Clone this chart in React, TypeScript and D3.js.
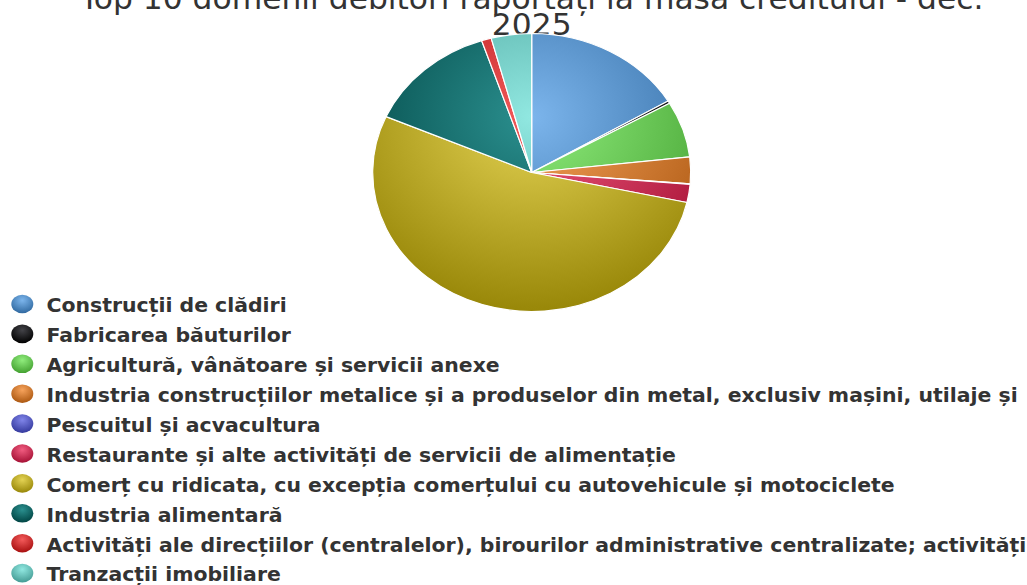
import React from 'react';
import * as d3 from 'd3';

const categories = [
  'Construcții de clădiri',
  'Fabricarea băuturilor',
  'Agricultură, vânătoare și servicii anexe',
  'Industria construcțiilor metalice și a produselor din metal, exclusiv mașini, utilaje și',
  'Pescuitul și acvacultura',
  'Restaurante și alte activități de servicii de alimentație',
  'Comerț cu ridicata, cu excepția comerțului cu autovehicule și motociclete',
  'Industria alimentară',
  'Activități ale direcțiilor (centralelor), birourilor administrative centralizate; activități',
  'Tranzacții imobiliare',
];

const values = [16.4, 0.3, 6.5, 3.1, 0.05, 2.1, 53.1, 13.3, 1.0, 4.1];

const colors = [
  '#7cb5ec', '#434348', '#90ed7d', '#f7a35c', '#8085e9',
  '#f15c80', '#e4d354', '#2b908f', '#f45b5b', '#91e8e1',
];

const titleLines = ['Top 10 domenii debitori raportați la masa creditului - dec.', '2025'];

const W = 1027;
const H = 585;
const CX = 531.7;
const CY = 172.5;
const R = 139;
const SX = 1.144;

function darken(c: string): string {
  const r = d3.rgb(c);
  const f = (v: number) => Math.max(0, Math.min(255, Math.round(v - 0.3 * 255)));
  return d3.rgb(f(r.r), f(r.g), f(r.b)).formatHex();
}

export default function App() {
  const pie = d3.pie<number>().sort(null).value((d) => d);
  const arcs = pie(values);
  const arc = d3.arc<d3.PieArcDatum<number>>().innerRadius(0).outerRadius(R);

  const legendY = d3.scaleLinear().domain([0, categories.length - 1]).range([312.3, 581.4]);

  return (
    <svg
      width={W}
      height={H}
      style={{ position: 'absolute', left: 0, top: 0, background: '#fff' }}
    >
      <defs>
        {colors.map((c, i) => (
          <radialGradient
            key={'pg' + i}
            id={'pg' + i}
            gradientUnits="userSpaceOnUse"
            cx={0}
            cy={-0.2 * 2 * R}
            r={0.7 * 2 * R}
          >
            <stop offset="0" stopColor={c} />
            <stop offset="1" stopColor={darken(c)} />
          </radialGradient>
        ))}
        {colors.map((c, i) => (
          <radialGradient key={'lg' + i} id={'lg' + i} cx={0.5} cy={0.3} r={0.7}>
            <stop offset="0" stopColor={c} />
            <stop offset="1" stopColor={darken(c)} />
          </radialGradient>
        ))}
      </defs>
      <rect x={0} y={0} width={W} height={H} fill="#fff" />

      <g fill="#333333" fontFamily="DejaVu Sans" fontSize={30}>
        {titleLines.map((t, i) => (
          <text
            key={i}
            transform={`translate(${CX},${i === 0 ? 9.3 : 35}) scale(1.045,1)`}
            textAnchor="middle"
          >
            {t}
          </text>
        ))}
      </g>

      <g transform={`translate(${CX},${CY}) scale(${SX},1)`}>
        {arcs.map((a, i) => (
          <path
            key={i}
            d={arc(a) || ''}
            fill={`url(#pg${i})`}
            stroke="#ffffff"
            strokeWidth={1.2}
            strokeLinejoin="round"
            vectorEffect="non-scaling-stroke"
          />
        ))}
      </g>

      <g fontFamily="DejaVu Sans" fontWeight="bold" fontSize={19} fill="#333333">
        {categories.map((c, i) => (
          <g key={i}>
            <ellipse cx={22.3} cy={legendY(i) - 8.3} rx={11} ry={9.3} fill={`url(#lg${i})`} />
            <text transform={`translate(46.5,${legendY(i)}) scale(1.075,1)`}>{c}</text>
          </g>
        ))}
      </g>
    </svg>
  );
}
